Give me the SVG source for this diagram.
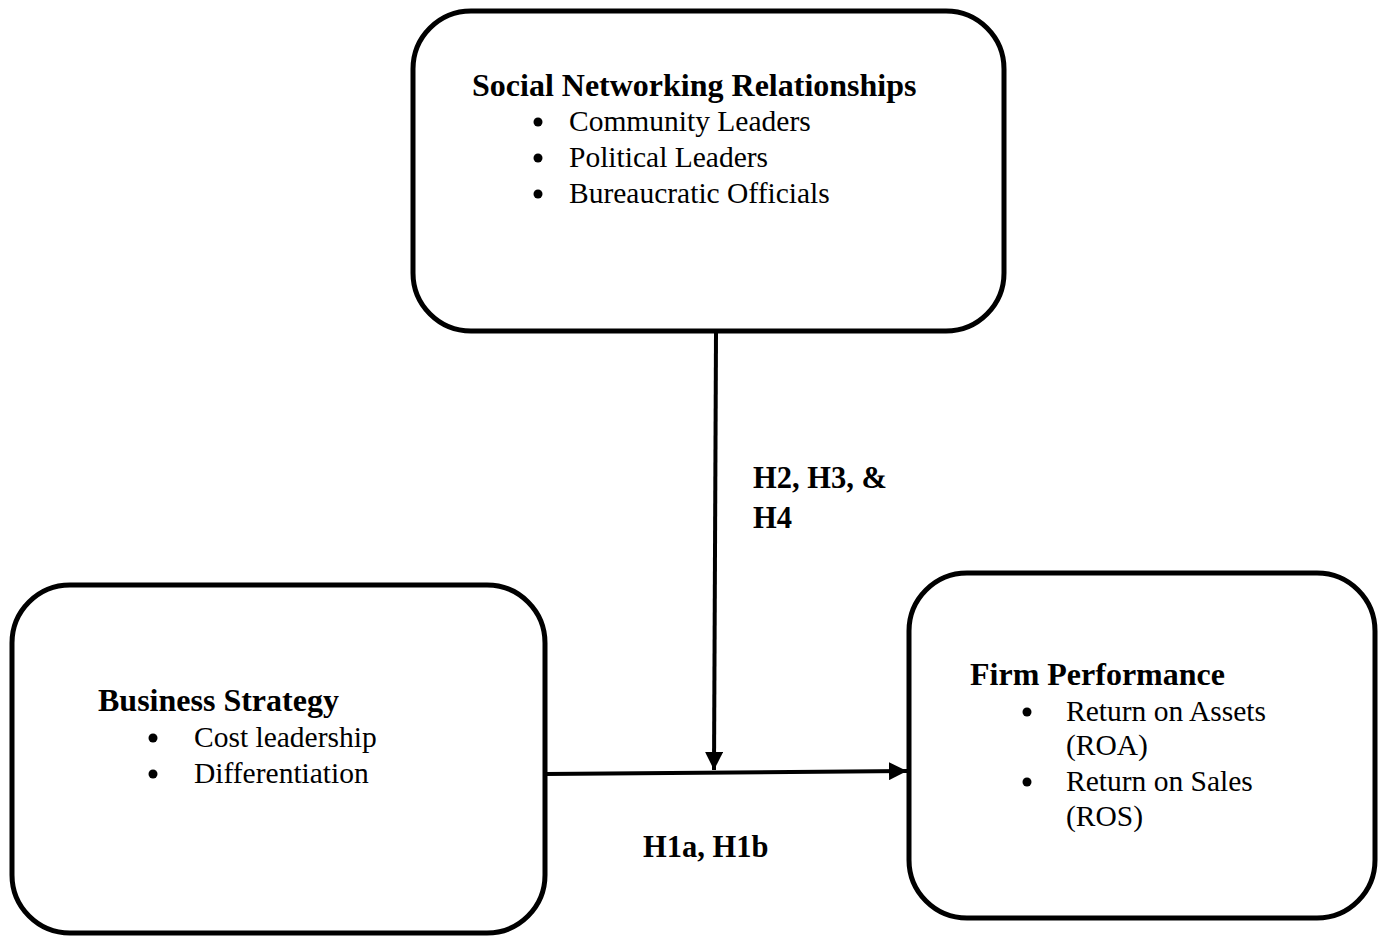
<svg xmlns="http://www.w3.org/2000/svg" width="1384" height="936" viewBox="0 0 1384 936">
<defs>
<style>
.box{fill:#fff;stroke:#000;stroke-width:5}
.t{font-family:"Liberation Serif","Times New Roman",serif;font-size:29.5px;fill:#000}
.b{font-weight:bold;font-size:32px}
.lbl{font-family:"Liberation Serif","Times New Roman",serif;font-weight:bold;font-size:30.5px;fill:#000}
.conn{stroke:#000;stroke-width:4;fill:none}
</style>
<marker id="arr" viewBox="0 0 10 10" refX="10" refY="5" markerWidth="4.5" markerHeight="4.5" orient="auto" markerUnits="strokeWidth">
<path d="M0,0 L10,5 L0,10 z" fill="#000"/>
</marker>
</defs>
<rect width="1384" height="936" fill="#fff"/>
<g id="snr">
<rect class="box" x="413" y="11" width="591" height="320" rx="58" ry="58"/>
<text class="t b" x="472" y="96">Social Networking Relationships</text>
<circle cx="538" cy="122" r="4.5"/><text class="t" x="569" y="131">Community Leaders</text>
<circle cx="538" cy="158" r="4.5"/><text class="t" x="569" y="167">Political Leaders</text>
<circle cx="538" cy="194" r="4.5"/><text class="t" x="569" y="203">Bureaucratic Officials</text>
</g>
<g id="bs">
<rect class="box" x="12" y="585" width="533" height="348" rx="58" ry="58"/>
<text class="t b" x="98" y="711">Business Strategy</text>
<circle cx="153" cy="738" r="4.5"/><text class="t" x="194" y="747">Cost leadership</text>
<circle cx="153" cy="774" r="4.5"/><text class="t" x="194" y="783">Differentiation</text>
</g>
<g id="fp">
<rect class="box" x="909" y="573" width="466" height="345" rx="58" ry="58"/>
<text class="t b" x="970" y="685">Firm Performance</text>
<circle cx="1027" cy="712" r="4.5"/><text class="t" x="1066" y="721">Return on Assets</text>
<text class="t" x="1066" y="755">(ROA)</text>
<circle cx="1027" cy="782" r="4.5"/><text class="t" x="1066" y="791">Return on Sales</text>
<text class="t" x="1066" y="826">(ROS)</text>
</g>
<g id="connectors">
<line class="conn" x1="716" y1="333" x2="714" y2="770" marker-end="url(#arr)"/>
<line class="conn" x1="545" y1="774" x2="907" y2="771" marker-end="url(#arr)"/>
<text class="lbl" x="753" y="488">H2, H3, &amp;</text>
<text class="lbl" x="753" y="528">H4</text>
<text class="lbl" x="643" y="857">H1a, H1b</text>
</g>
</svg>
